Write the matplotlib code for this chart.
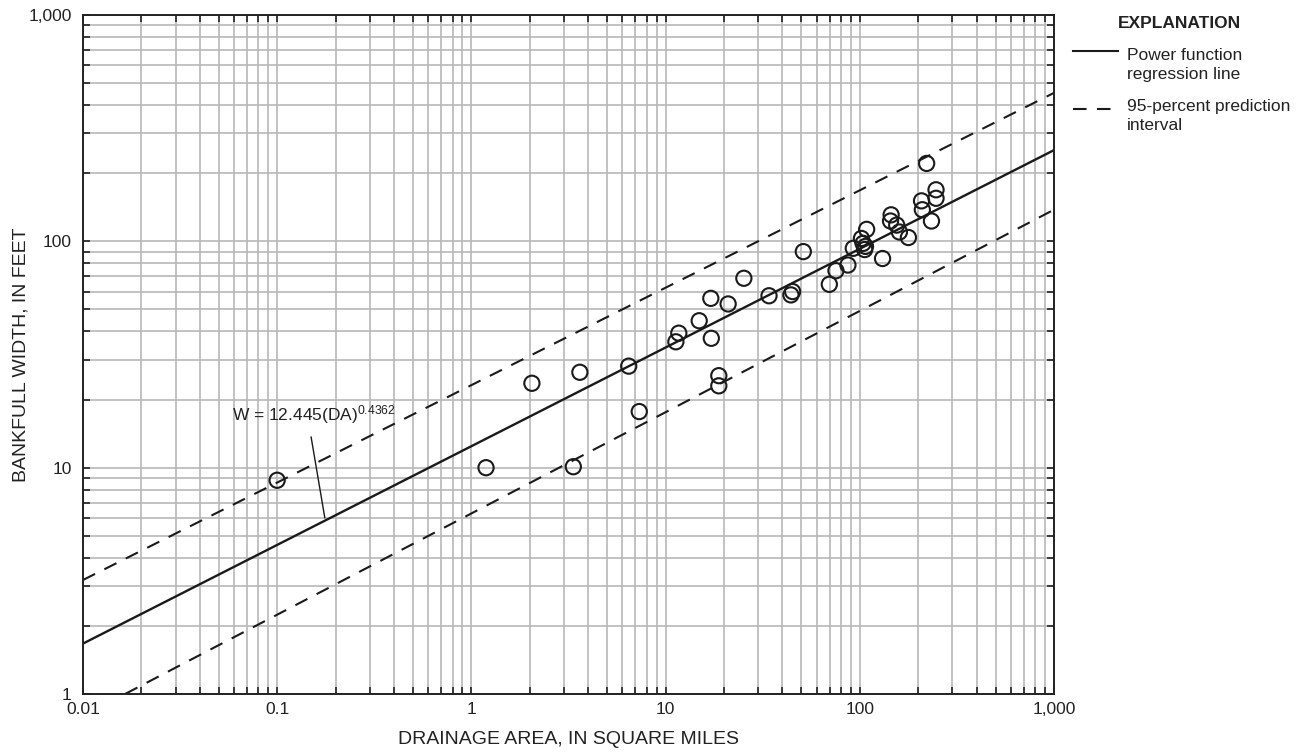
import matplotlib
matplotlib.use("Agg")
import matplotlib.pyplot as plt
from matplotlib.ticker import FixedLocator, NullFormatter

plt.rcParams['font.family'] = ['Liberation Sans', 'DejaVu Sans']
plt.rcParams['mathtext.fontset'] = 'custom'
plt.rcParams['mathtext.rm'] = 'Liberation Sans'
plt.rcParams['mathtext.default'] = 'regular'

# dados (area de drenagem em mi2, largura em pes)
drainage_area = [0.1, 1.19, 2.05, 3.35, 3.62, 6.46, 7.32, 11.3, 11.7, 14.9,
                 17.1, 17.2, 18.8, 18.8, 21.0, 25.3, 34.1, 44.2, 45.1, 51.2,
                 69.7, 75.4, 86.9, 92.6, 102, 104, 107, 106, 108.5, 131,
                 145, 144, 155, 160, 178, 208, 210, 221, 234, 247, 247]
bankfull_width = [8.8, 10.0, 23.6, 10.1, 26.4, 28.1, 17.7, 36.0, 39.3, 44.6,
                  56.0, 37.3, 25.5, 23.0, 52.9, 68.7, 57.5, 58.0, 60.0, 90.1,
                  64.6, 74.2, 78.6, 93.2, 103, 98, 95, 92, 113, 84,
                  131, 123, 118, 110, 104, 151, 138, 221, 123, 169, 155]

# regressao W = 12.445(DA)^0.4362 e intervalo de predicao 95%
line_da = [0.01, 1000]
fit_w = [1.67, 253]
upper_w = [3.19, 453]
lower_w = [0.80, 138]

decades = [0.01, 0.1, 1, 10, 100, 1000]
x_labels = ["0.01", "0.1", "1", "10", "100", "1,000"]
y_decades = [1, 10, 100, 1000]
y_labels = ["1", "10", "100", "1,000"]

dash = [6.5, 5]

fig = plt.figure(figsize=(12.98, 7.52), dpi=100)
ax = fig.add_axes([0.0639, 0.0771, 0.7481, 0.9029])

ax.set_xscale("log")
ax.set_yscale("log")
ax.set_xlim(0.01, 1000)
ax.set_ylim(1, 1000)

minor_x = [m * d for d in decades[:-1] for m in range(2, 10)]
minor_y = [m * d for d in y_decades[:-1] for m in range(2, 10)]
ax.xaxis.set_major_locator(FixedLocator(decades))
ax.yaxis.set_major_locator(FixedLocator(y_decades))
ax.xaxis.set_minor_locator(FixedLocator(minor_x))
ax.yaxis.set_minor_locator(FixedLocator(minor_y))
ax.set_xticklabels(x_labels)
ax.set_yticklabels(y_labels)
ax.xaxis.set_minor_formatter(NullFormatter())
ax.yaxis.set_minor_formatter(NullFormatter())

ax.grid(True, which="both", color="#b8b8b8", linewidth=1.2)
ax.set_axisbelow(True)
ax.tick_params(which="both", direction="in", top=True, right=True,
               length=5, width=1.2, color="#222222", labelsize=12.5,
               labelcolor="#222222")
ax.tick_params(axis="x", pad=6)
ax.tick_params(axis="y", pad=8)
for s in ax.spines.values():
    s.set_linewidth(1.4)
    s.set_color("#222222")

ax.plot(line_da, upper_w, color="#1a1a1a", lw=1.5, dashes=dash)
ax.plot(line_da, lower_w, color="#1a1a1a", lw=1.5, dashes=dash)
ax.plot(line_da, fit_w, color="#1a1a1a", lw=1.7)

ax.scatter(drainage_area, bankfull_width, s=120, facecolors="none",
           edgecolors="#1a1a1a", linewidths=1.5, zorder=3)

ax.annotate("W = 12.445(DA)$^{0.4362}$", xy=(0.176, 6.0), xytext=(0.155, 17.2),
            ha="center", va="center", fontsize=12.5, color="#222222",
            arrowprops=dict(arrowstyle="-", color="#1a1a1a", lw=1.0,
                            relpos=(0.47, 0.0), shrinkA=6, shrinkB=0))

ax.set_xlabel("DRAINAGE AREA, IN SQUARE MILES", fontsize=14, color="#222222")
ax.set_ylabel("BANKFULL WIDTH, IN FEET", fontsize=14, color="#222222")
ax.xaxis.set_label_coords(0.5, -0.055)
ax.yaxis.set_label_coords(-0.055, 0.5)

# explicacao (legenda)
fig.text(1179 / 1298, 1 - 23 / 752, "EXPLANATION", fontsize=12.5, fontweight="bold",
         ha="center", va="center", color="#222222")
fig.add_artist(plt.Line2D([1073 / 1298, 1118 / 1298], [1 - 51 / 752, 1 - 51 / 752],
                          color="#1a1a1a", lw=1.5))
fig.text(1127 / 1298, 1 - 65 / 752, "Power function\nregression line",
         fontsize=12.5, ha="left", va="center", linespacing=1.25, color="#222222")
fig.add_artist(plt.Line2D([1073 / 1298, 1118 / 1298], [1 - 109 / 752, 1 - 109 / 752],
                          color="#1a1a1a", lw=1.5, dashes=dash))
fig.text(1127 / 1298, 1 - 116 / 752, "95-percent prediction\ninterval",
         fontsize=12.5, ha="left", va="center", linespacing=1.25, color="#222222")

fig.savefig("out.png", dpi=100)
